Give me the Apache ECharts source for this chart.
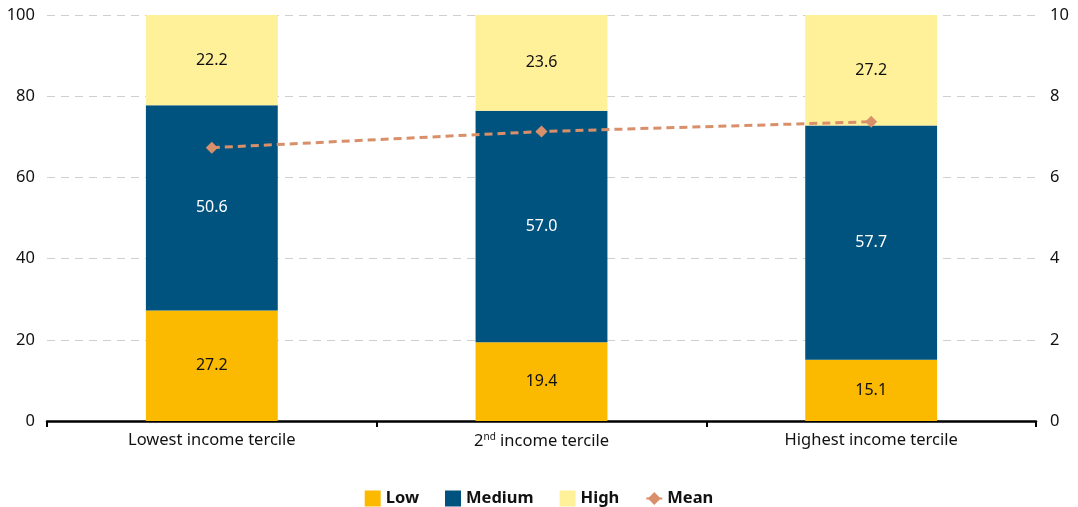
<!DOCTYPE html>
<html><head><meta charset="utf-8">
<script src="https://cdn.jsdelivr.net/npm/echarts@6/dist/echarts.min.js"></script>
<style>html,body{margin:0;padding:0;background:#fff}#c{width:1078px;height:507px}</style>
</head><body><div id="c"></div>
<script>
const categories = ['Lowest income tercile', '2nd income tercile', 'Highest income tercile'];
const lowValues = [27.2, 19.4, 15.1];
const mediumValues = [50.6, 57.0, 57.7];
const highValues = [22.2, 23.6, 27.2];
const meanValues = [6.73, 7.13, 7.37];
const leftTicks = [0, 20, 40, 60, 80, 100];
const rightTicks = [0, 2, 4, 6, 8, 10];

const FONT = '"Noto Sans", "Open Sans", sans-serif';
const chart = echarts.init(document.getElementById('c'));
const lbl = (color) => ({show: true, position: 'inside', color: color, fontSize: 16, fontFamily: FONT, formatter: p => p.value.toFixed(1)});
chart.setOption({
  animation: false,
  textStyle: {fontFamily: FONT},
  grid: {left: 47, right: 42, top: 15, bottom: 86},
  legend: {
    top: 485, left: 'center', itemGap: 26, itemWidth: 16, itemHeight: 16,
    textStyle: {fontSize: 16.5, fontWeight: 'bold', color: '#111', fontFamily: FONT},
    data: [
      {name: 'Low', icon: 'rect'}, {name: 'Medium', icon: 'rect'}, {name: 'High', icon: 'rect'},
      {name: 'Mean'}
    ]
  },
  xAxis: {
    type: 'category', data: categories,
    axisLine: {lineStyle: {color: '#000', width: 2.5}},
    axisTick: {show: true, length: 6, lineStyle: {color: '#000', width: 2}},
    axisLabel: {
      color: '#111', fontSize: 16.5, margin: 11, fontFamily: FONT,
      formatter: v => v.startsWith('2nd') ? '2{sup|nd} income tercile' : v,
      rich: {sup: {fontSize: 10, verticalAlign: 'top', padding: [0, 0, 8, 0], color: '#111', fontFamily: FONT}}
    }
  },
  yAxis: [
    {type: 'value', min: leftTicks[0], max: leftTicks[leftTicks.length-1], interval: 20,
     axisLine: {show: false}, axisTick: {show: false},
     axisLabel: {color: '#111', fontSize: 16.5, margin: 12, fontFamily: FONT},
     splitLine: {show: true, lineStyle: {color: '#cfcfcf', type: [8, 6], width: 1}}},
    {type: 'value', min: rightTicks[0], max: rightTicks[rightTicks.length-1], interval: 2,
     axisLine: {show: false}, axisTick: {show: false},
     axisLabel: {color: '#111', fontSize: 16.5, margin: 14, fontFamily: FONT},
     splitLine: {show: false}}
  ],
  series: [
    {name: 'Low', type: 'bar', stack: 's', data: lowValues, barWidth: '40%', itemStyle: {color: '#FBB900'}, label: lbl('#111')},
    {name: 'Medium', type: 'bar', stack: 's', data: mediumValues, itemStyle: {color: '#00537E'}, label: lbl('#fff')},
    {name: 'High', type: 'bar', stack: 's', data: highValues, itemStyle: {color: '#FFF09A'}, label: lbl('#111')},
    {name: 'Mean', type: 'line', yAxisIndex: 1, data: meanValues, symbol: 'diamond', symbolSize: 12,
     itemStyle: {color: '#D9906A'}, lineStyle: {color: '#D9906A', width: 3, type: [8, 5]}, z: 5}
  ]
});
</script></body></html>
